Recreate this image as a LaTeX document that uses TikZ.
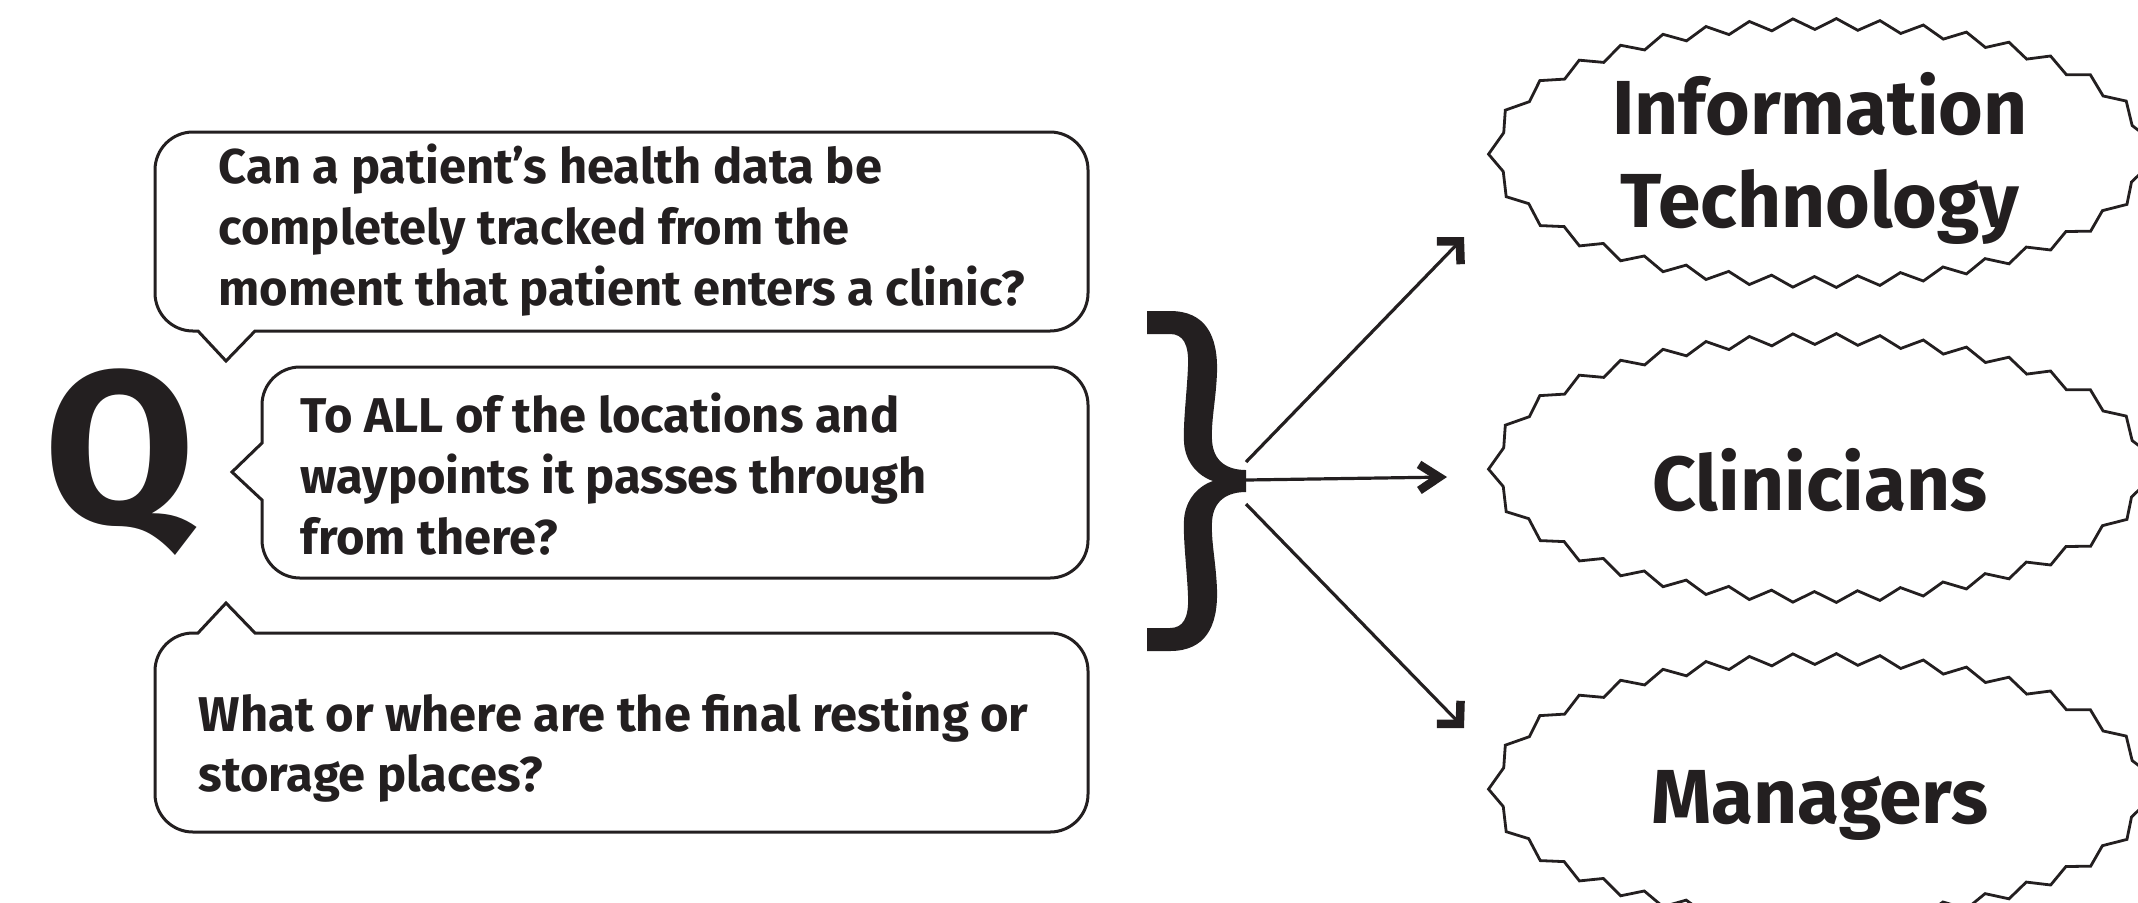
\documentclass[tikz,border=0pt]{standalone}
\usepackage{fontspec}
\setmainfont{Fira Sans}
\usetikzlibrary{arrows.meta,decorations.pathmorphing,calc}
\definecolor{ink}{HTML}{231F20}
\begin{document}
\begin{tikzpicture}[x=0.1mm,y=-0.1mm,line join=miter,
  bubble/.style={draw=ink,line width=0.3mm},
  qline/.style={anchor=base west,inner sep=0pt,text=ink,font=\bfseries\fontsize{13.9}{16}\selectfont},
  role/.style={anchor=base,inner sep=0pt,text=ink,font=\bfseries\fontsize{21.8}{26}\selectfont},
  burst/.style={draw=ink,line width=0.28mm,decorate,
    decoration={zigzag,segment length=4.33mm,amplitude=0.55mm}},
  link/.style={draw=ink,line width=0.32mm},
  midhead/.style={-{Straight Barb[length=2.0mm,width=2.6mm,line width=0.85mm]}},
  diaghead/.style={-{Straight Barb[length=1.6mm,width=3.3mm,line width=0.85mm]}}]
\useasboundingbox (0,0) rectangle (2138,902);
\clip (0,0) rectangle (2138,902);

% the big Q
\node[anchor=base,inner sep=0pt,text=ink,font=\bfseries\fontsize{62}{70}\selectfont] (Q) at (120,523) {Q};

% speech bubbles (y grows downwards)
\draw[bubble] (193,132) -- (1050,132) arc[start angle=270,end angle=360,radius=38]
  -- (1088,293) arc[start angle=0,end angle=90,radius=38]
  -- (255,331) -- (226,361) -- (198,331) -- (193,331)
  arc[start angle=90,end angle=180,radius=38]
  -- (155,170) arc[start angle=180,end angle=270,radius=38] -- cycle;
\draw[bubble] (300,367) -- (1050,367) arc[start angle=270,end angle=360,radius=38]
  -- (1088,540) arc[start angle=0,end angle=90,radius=38]
  -- (300,578) arc[start angle=90,end angle=180,radius=38]
  -- (262,500) -- (232,472) -- (262,443)
  -- (262,405) arc[start angle=180,end angle=270,radius=38] -- cycle;
\draw[bubble] (155,671) arc[start angle=180,end angle=270,radius=38]
  -- (198,633) -- (226,603) -- (255,633)
  -- (1050,633) arc[start angle=270,end angle=360,radius=38]
  -- (1088,794) arc[start angle=0,end angle=90,radius=38]
  -- (193,832) arc[start angle=90,end angle=180,radius=38] -- cycle;

% questions
\node[qline] (qa1) at (218,183) {Can a patient’s health data be};
\node[qline] (qa2) at (218,244) {completely tracked from the};
\node[qline] (qa3) at (218,305) {moment that patient enters a clinic?};
\node[qline] (qb1) at (300,432) {To ALL of the locations and};
\node[qline] (qb2) at (300,493) {waypoints it passes through};
\node[qline] (qb3) at (300,554) {from there?};
\node[qline] (qc1) at (198,731) {What or where are the final resting or};
\node[qline] (qc2) at (198,791) {storage places?};

% curly brace
\fill[ink] (1147,311) -- (1170,311) .. controls (1205,311) and (1218,335) .. (1217,372)
  .. controls (1216,400) and (1211,420) .. (1212,440)
  .. controls (1213,462) and (1228,470) .. (1246,470) -- (1246,492)
  .. controls (1228,492) and (1213,500) .. (1212,522)
  .. controls (1211,542) and (1216,562) .. (1217,590)
  .. controls (1218,627) and (1205,651) .. (1170,651) -- (1147,651) -- (1147,628) -- (1170,628)
  .. controls (1183,628) and (1189,618) .. (1188,596)
  .. controls (1187,570) and (1183,540) .. (1184,520)
  .. controls (1185,500) and (1198,486) .. (1213,481)
  .. controls (1198,476) and (1185,462) .. (1184,442)
  .. controls (1183,422) and (1187,392) .. (1188,366)
  .. controls (1189,344) and (1183,334) .. (1170,334) -- (1147,334) -- cycle;
\coordinate (braceUp) at (1246,462);
\coordinate (braceMid) at (1246,480);
\coordinate (braceDown) at (1246,504);

% zigzag ovals
\draw[burst] (1820,153) ellipse [x radius=325,y radius=129];
\draw[burst] (1820,468) ellipse [x radius=325,y radius=129];
\draw[burst] (1820,788) ellipse [x radius=325,y radius=129];
\node[role] (it1) at (1820,134) {Information};
\node[role] (it2) at (1820,227) {Technology};
\node[role] (cl) at (1820,510) {Clinicians};
\node[role] (mg) at (1820,823) {Managers};

\coordinate (toIT) at (1464,237);
\coordinate (toCl) at (1447,477);
\coordinate (toMg) at (1464,728);

% arrows
\draw[link,diaghead] (braceUp) -- (toIT);
\draw[link,midhead] (braceMid) -- (toCl);
\draw[link,diaghead] (braceDown) -- (toMg);
\end{tikzpicture}
\end{document}
